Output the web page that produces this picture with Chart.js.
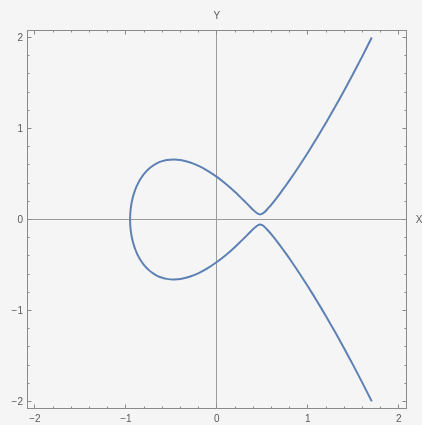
<!DOCTYPE html>
<html>
<head>
<meta charset="utf-8">
<script src="https://cdn.jsdelivr.net/npm/chart.js@4/dist/chart.umd.min.js"></script>
<style>
  html, body { margin: 0; padding: 0; background: #f5f5f5; }
  #wrap { width: 422px; height: 425px; }
</style>
</head>
<body>
<div id="wrap"><canvas id="c" width="422" height="425"></canvas></div>
<script>
// Upper half of the curve, traced from the top-right end round to the left tip
const upperX = [1.703, 1.6, 1.5, 1.4, 1.3, 1.2, 1.1, 1.0, 0.9, 0.8, 0.75, 0.7, 0.65, 0.6, 0.575, 0.55, 0.525, 0.5, 0.476, 0.45, 0.425, 0.4, 0.375, 0.35, 0.3, 0.25, 0.2, 0.1, 0, -0.1, -0.2, -0.3, -0.4, -0.476, -0.55, -0.6, -0.65, -0.7, -0.75, -0.8, -0.825, -0.85, -0.865, -0.88, -0.9, -0.91, -0.92, -0.928, -0.935, -0.94, -0.945, -0.948, -0.95, -0.952, -0.9533, -0.9537];
const upperY = [2.0, 1.796, 1.604, 1.418, 1.238, 1.064, 0.896, 0.734, 0.580, 0.432, 0.362, 0.293, 0.227, 0.164, 0.135, 0.107, 0.082, 0.063, 0.056, 0.064, 0.082, 0.105, 0.129, 0.155, 0.205, 0.254, 0.302, 0.390, 0.468, 0.535, 0.589, 0.629, 0.654, 0.659, 0.653, 0.641, 0.622, 0.593, 0.554, 0.501, 0.467, 0.428, 0.400, 0.369, 0.319, 0.290, 0.257, 0.226, 0.193, 0.166, 0.133, 0.108, 0.087, 0.060, 0.029, 0];

// Lower half, from the left tip back out to the bottom-right end
const lowerX = [-0.9533, -0.952, -0.95, -0.948, -0.945, -0.94, -0.935, -0.928, -0.92, -0.91, -0.9, -0.88, -0.865, -0.85, -0.825, -0.8, -0.75, -0.7, -0.65, -0.6, -0.55, -0.476, -0.4, -0.3, -0.2, -0.1, 0, 0.1, 0.2, 0.25, 0.3, 0.35, 0.375, 0.4, 0.425, 0.45, 0.476, 0.5, 0.525, 0.55, 0.575, 0.6, 0.65, 0.7, 0.75, 0.8, 0.9, 1.0, 1.1, 1.2, 1.3, 1.4, 1.5, 1.6, 1.703];
const lowerY = [-0.029, -0.060, -0.087, -0.108, -0.133, -0.166, -0.193, -0.226, -0.257, -0.290, -0.319, -0.369, -0.400, -0.428, -0.467, -0.501, -0.554, -0.593, -0.622, -0.641, -0.653, -0.659, -0.654, -0.629, -0.589, -0.535, -0.468, -0.390, -0.302, -0.254, -0.205, -0.155, -0.129, -0.105, -0.082, -0.064, -0.056, -0.063, -0.082, -0.107, -0.135, -0.164, -0.227, -0.293, -0.362, -0.432, -0.580, -0.734, -0.896, -1.064, -1.238, -1.418, -1.604, -1.796, -2.0];

// Major tick positions and their labels
const xTicks = [-2, -1, 0, 1, 2];
const xTickLabels = ['\u22122', '\u22121', '0', '1', '2'];
const yTicks = [-2, -1, 0, 1, 2];
const yTickLabels = ['\u22122', '\u22121', '0', '1', '2'];
const axisNames = { x: 'X', y: 'Y' };

const points = upperX.map((x, i) => ({ x: x, y: upperY[i] }))
  .concat(lowerX.map((x, i) => ({ x: x, y: lowerY[i] })));

const FRAME = '#8a8a8a';
const AXIS = '#9c9c9c';
const TEXT = '#5a5a5a';
const FONT = '10px "Liberation Sans", Arial, sans-serif';

const crisp = v => Math.round(v - 0.5) + 0.5;

// Frame, inward ticks, origin axes and labels
const framePlugin = {
  id: 'frame',
  beforeDatasetsDraw(chart) {
    const { ctx, chartArea: a, scales: { x, y } } = chart;
    ctx.save();
    ctx.lineWidth = 1;
    // axes through the origin
    ctx.strokeStyle = AXIS;
    const x0 = crisp(x.getPixelForValue(0));
    const y0 = crisp(y.getPixelForValue(0));
    ctx.beginPath();
    ctx.moveTo(x0, a.top); ctx.lineTo(x0, a.bottom);
    ctx.moveTo(a.left, y0); ctx.lineTo(a.right, y0);
    ctx.stroke();

    // frame
    ctx.strokeStyle = FRAME;
    const L = crisp(a.left), R = crisp(a.right), T = crisp(a.top), B = crisp(a.bottom);
    ctx.strokeRect(L, T, R - L, B - T);

    // ticks: majors every 1, minors every 0.2
    ctx.beginPath();
    for (let k = -10; k <= 10; k++) {
      const v = k / 5;
      const len = (k % 5 === 0) ? 4 : 2;
      const px = crisp(x.getPixelForValue(v));
      ctx.moveTo(px, B); ctx.lineTo(px, B - len);
      ctx.moveTo(px, T); ctx.lineTo(px, T + len);
      const py = crisp(y.getPixelForValue(v));
      ctx.moveTo(L, py); ctx.lineTo(L + len, py);
      ctx.moveTo(R, py); ctx.lineTo(R - len, py);
    }
    ctx.stroke();
    ctx.restore();
  },
  afterDraw(chart) {
    const { ctx, chartArea: a, scales: { x, y } } = chart;
    ctx.save();
    ctx.fillStyle = TEXT;
    ctx.font = FONT;
    ctx.textBaseline = 'middle';
    ctx.textAlign = 'center';
    xTicks.forEach((v, i) => {
      ctx.fillText(xTickLabels[i], x.getPixelForValue(v), a.bottom + 11);
    });
    ctx.textAlign = 'right';
    yTicks.forEach((v, i) => {
      ctx.fillText(yTickLabels[i], a.left - 4, y.getPixelForValue(v) + 0.5);
    });
    ctx.textAlign = 'center';
    ctx.fillText(axisNames.y, x.getPixelForValue(0), 16);
    ctx.textAlign = 'left';
    ctx.fillText(axisNames.x, a.right + 9, y.getPixelForValue(0) + 0.5);
    ctx.restore();
  }
};

new Chart(document.getElementById('c'), {
  type: 'scatter',
  data: {
    datasets: [{
      data: points,
      showLine: true,
      borderColor: '#5e81b5',
      borderWidth: 2,
      borderJoinStyle: 'round',
      pointRadius: 0,
      pointHoverRadius: 0,
      tension: 0.2,
      fill: false
    }]
  },
  options: {
    responsive: false,
    animation: false,
    events: [],
    layout: { padding: { left: 27, right: 15.3, top: 30.7, bottom: 16.3 } },
    plugins: { legend: { display: false }, tooltip: { enabled: false } },
    scales: {
      x: { type: 'linear', min: -2.087, max: 2.087, display: false },
      y: { type: 'linear', min: -2.08, max: 2.075, display: false }
    }
  },
  plugins: [framePlugin]
});
</script>
</body>
</html>
